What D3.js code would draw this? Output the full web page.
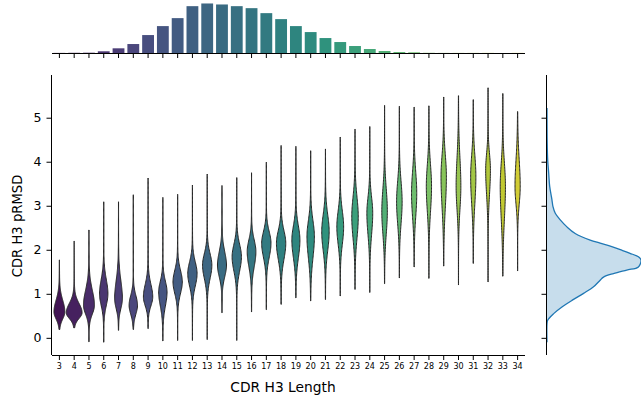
<!DOCTYPE html>
<html>
<head>
<meta charset="utf-8">
<script src="https://cdn.jsdelivr.net/npm/d3@7"></script>
<style>
  body { margin: 0; background: #fff; }
  svg { display: block; font-family: "DejaVu Sans", sans-serif; }
</style>
</head>
<body>
<svg width="641" height="400"></svg>
<script>
// categories
const lengths = [3, 4, 5, 6, 7, 8, 9, 10, 11, 12, 13, 14, 15, 16, 17, 18,
  19, 20, 21, 22, 23, 24, 25, 26, 27, 28, 29, 30, 31, 32, 33, 34];

// top marginal: number of loops per length
const counts = [1, 2, 3, 17, 47, 90, 180, 270, 350, 470, 497, 487, 470, 450, 400, 340,
  270, 210, 150, 110, 70, 40, 20, 10, 7, 2, 1, 1, 1, 1, 0, 1];

// violin summaries (pRMSD)
const vMin = [0.19, 0.23, -0.09, -0.1, 0.17, 0.19, 0.21, -0.07, -0.06, -0.06, -0.04, 0.57, -0.06, 0.59, 0.64, 0.76,
  0.91, 0.84, 0.87, 0.95, 1.10, 1.03, 1.23, 1.36, 1.61, 1.35, 1.63, 1.20, 1.69, 1.27, 1.40, 1.52];
const vMax = [1.77, 2.20, 2.45, 3.09, 3.09, 3.25, 3.63, 3.19, 3.26, 3.47, 3.72, 3.46, 3.64, 3.75, 3.99, 4.37,
  4.35, 4.25, 4.29, 4.56, 4.74, 4.80, 5.28, 5.26, 5.24, 5.27, 5.47, 5.50, 5.41, 5.68, 5.55, 5.14];
const vMode = [0.59, 0.57, 0.74, 1.00, 0.89, 0.74, 0.93, 1.04, 1.27, 1.46, 1.65, 1.65, 1.84, 1.96, 2.15, 2.15,
  2.22, 2.30, 2.41, 2.52, 2.75, 2.83, 2.87, 3.09, 3.28, 3.44, 3.66, 3.44, 3.66, 3.82, 3.44, 3.44];
const spreadHi = [0.26, 0.21, 0.34, 0.32, 0.40, 0.22, 0.28, 0.24, 0.26, 0.26, 0.26, 0.30, 0.28, 0.26, 0.26, 0.28,
  0.32, 0.36, 0.38, 0.36, 0.44, 0.36, 0.50, 0.46, 0.48, 0.48, 0.48, 0.64, 0.48, 0.36, 0.52, 0.59];
const spreadLo = [0.16, 0.13, 0.20, 0.26, 0.22, 0.20, 0.20, 0.31, 0.26, 0.28, 0.30, 0.26, 0.32, 0.34, 0.32, 0.36,
  0.40, 0.48, 0.42, 0.39, 0.48, 0.48, 0.50, 0.49, 0.52, 0.56, 0.68, 0.52, 0.60, 0.56, 0.72, 0.40];
const peakDensity = [0.69, 1.00, 0.69, 0.53, 0.49, 0.53, 0.59, 0.53, 0.59, 0.59, 0.59, 0.57, 0.59, 0.55, 0.59, 0.59,
  0.51, 0.47, 0.47, 0.43, 0.41, 0.37, 0.35, 0.35, 0.33, 0.33, 0.34, 0.30, 0.33, 0.30, 0.33, 0.33];

// right marginal KDE of all pRMSD values: [value, density]
const kdeVals = [-0.1, 0.32, 0.40, 0.55, 0.70, 0.85, 1.01, 1.16, 1.31, 1.38, 1.46, 1.54, 1.61, 1.77, 1.84,
  1.92, 1.99, 2.07, 2.15, 2.22, 2.37, 2.52, 2.68, 2.83, 2.98, 3.13, 3.44, 3.74, 4.04, 4.42, 5.22];
const kdeDens = [0, 0, 0.7, 6.7, 15, 25, 36.7, 46.7, 53.3, 56.7, 66.7, 80, 91.7, 94.3, 91.7,
  83.3, 75, 65, 53.3, 43.3, 28.3, 20, 13.3, 8.3, 6, 5, 2.7, 1.7, 0.7, 0.2, 0];

const yTicks = [0, 1, 2, 3, 4, 5];

const svg = d3.select("svg");

// layout
const main = { left: 52, right: 525, top: 75, bottom: 355 };
const topM = { top: 1, bottom: 53 };
const rightM = { left: 547, right: 641 };

// colours: viridis, desaturated like seaborn
function desat(c, p) {
  const h = d3.hsl(c);
  h.s *= p;
  return h.formatHex();
}
const colors = lengths.map((d, i) => desat(d3.interpolateViridis((i + 1) / (lengths.length + 1)), 0.75));

// scales
const x = d3.scaleBand()
  .domain(lengths)
  .range([main.left, main.right]);

const y = d3.scaleLinear()
  .domain([-0.39, 5.97])
  .range([main.bottom, main.top]);

const wScale = d3.scaleLinear()
  .domain([0, 1])
  .range([0, x.bandwidth() * 1.07 / 2]);

// main axes
const gx = svg.append("g")
  .attr("transform", `translate(0, ${main.bottom})`)
  .call(d3.axisBottom(x).tickSize(5).tickPadding(3));
gx.selectAll("text").attr("font-size", 8);

const gy = svg.append("g")
  .attr("transform", `translate(${main.left}, 0)`)
  .call(d3.axisLeft(y).tickValues(yTicks).tickFormat(d3.format("d")).tickSize(5.5).tickPadding(5));
gy.selectAll("text").attr("font-size", 12.5);

[gx, gy].forEach(g => {
  g.attr("font-family", null);
  g.selectAll("text").attr("fill", "#000");
  g.selectAll("line, path").attr("stroke", "#000").attr("stroke-width", 1);
});
gx.select(".domain").attr("d", `M${main.left},0.5H${main.right}`);
gy.select(".domain").attr("d", `M-0.5,${main.top}V${main.bottom}`);

svg.append("text")
  .attr("x", 283)
  .attr("y", 392)
  .attr("text-anchor", "middle")
  .attr("font-size", 13.8)
  .text("CDR H3 Length");

svg.append("text")
  .attr("transform", `translate(22, 226) rotate(-90)`)
  .attr("text-anchor", "middle")
  .attr("font-size", 13.2)
  .text("CDR H3 pRMSD");

// violins
const violin = d3.area()
  .x0(d => d.cx - d.hw)
  .x1(d => d.cx + d.hw)
  .y(d => y(d.v));

lengths.forEach((len, i) => {
  const cx = x(len) + x.bandwidth() / 2;
  const pts = d3.range(0, 121).map(k => {
    const v = vMin[i] + (vMax[i] - vMin[i]) * k / 120;
    const s = v < vMode[i] ? spreadLo[i] : spreadHi[i];
    const z = (v - vMode[i]) / s;
    const dens = peakDensity[i] * (0.95 * Math.exp(-0.5 * z * z) + 0.05 * Math.exp(-0.5 * z * z / 9));
    return { cx, v, hw: wScale(dens) };
  });
  svg.append("path")
    .datum(pts)
    .attr("d", violin)
    .attr("fill", colors[i])
    .attr("stroke", "#262626")
    .attr("stroke-width", 1);
});

// top marginal bars
const yTop = d3.scaleLinear()
  .domain([0, d3.max(counts) * 1.05])
  .range([topM.bottom, topM.top]);

svg.append("g")
  .selectAll("rect")
  .data(lengths)
  .join("rect")
  .attr("x", d => x(d) + x.bandwidth() * 0.1)
  .attr("width", x.bandwidth() * 0.8)
  .attr("y", (d, i) => yTop(counts[i]))
  .attr("height", (d, i) => topM.bottom - yTop(counts[i]))
  .attr("fill", (d, i) => colors[i]);

const gTop = svg.append("g")
  .attr("transform", `translate(0, ${topM.bottom})`)
  .call(d3.axisBottom(x).tickSize(5).tickFormat(""));
gTop.selectAll("line, path").attr("stroke", "#000").attr("stroke-width", 1);
gTop.select(".domain").attr("d", `M${main.left},0.5H${main.right}`);

// right marginal KDE
const kde = kdeVals.map((v, i) => ({ v, d: kdeDens[i] }));
const xRight = d3.scaleLinear()
  .domain([0, d3.max(kdeDens)])
  .range([rightM.left, rightM.right]);

const area = d3.area()
  .curve(d3.curveCatmullRom)
  .y(d => y(d.v))
  .x0(xRight(0))
  .x1(d => xRight(d.d));

svg.append("path")
  .datum(kde)
  .attr("d", area)
  .attr("fill", "#1f77b4")
  .attr("fill-opacity", 0.25);

svg.append("path")
  .datum(kde)
  .attr("d", area.lineX1())
  .attr("fill", "none")
  .attr("stroke", "#1f77b4")
  .attr("stroke-width", 1.3);

const gR = svg.append("g")
  .attr("transform", `translate(${rightM.left}, 0)`)
  .call(d3.axisLeft(y).tickValues(yTicks).tickSize(5.5).tickFormat(""));
gR.selectAll("line, path").attr("stroke", "#000").attr("stroke-width", 1);
gR.select(".domain").attr("d", `M-0.5,${main.top}V${main.bottom}`);
</script>
</body>
</html>
